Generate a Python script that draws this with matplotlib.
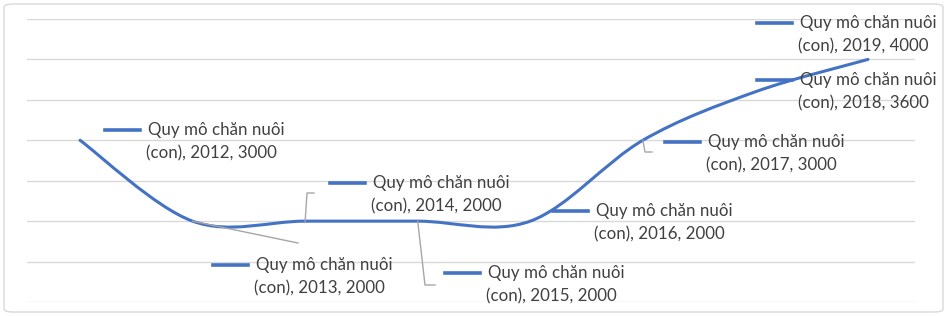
import matplotlib
matplotlib.use("Agg")
import matplotlib.pyplot as plt
import numpy as np
from matplotlib.path import Path
from matplotlib.patches import PathPatch, FancyBboxPatch

# ---------------------------------------------------------------------------
# Data
# ---------------------------------------------------------------------------
years = [2012, 2013, 2014, 2015, 2016, 2017, 2018, 2019]
values = [3000, 2000, 2000, 2000, 2000, 3000, 3600, 4000]
series_name = "Quy mô chăn nuôi\n(con)"

# ---------------------------------------------------------------------------
# Style / geometry (pixels, y measured from top of the 947x316 image)
# ---------------------------------------------------------------------------
W, H, DPI = 947, 316, 100
LINE_COL = "#4472C4"
GRID_COL = "#D9D9D9"
TEXT_COL = "#404040"
LEADER_COL = "#A6A6A6"
FONT = ["Lato", "DejaVu Sans"]
FS = 12.2

# label anchor: (key start x, first line y)
LABEL_POS = {
    2012: (105, 130),
    2013: (213, 265),
    2014: (330, 183),
    2015: (445, 273),
    2016: (553, 211),
    2017: (665, 142),
    2018: (757, 80),
    2019: (757, 23),
}
# leader lines: list of pixel vertices after the data point
LEADERS = {
    2013: [(298, 243)],
    2014: [(307, 193), (314, 193)],
    2015: [(425, 285), (435, 285)],
    2017: [(645, 152), (652, 152)],
}


def px(x, y):
    """pixel (from top-left) -> figure fraction"""
    return x / W, 1 - y / H


def smooth_path(xs, ys):
    """Excel-like smoothed line: cubic Bezier with Catmull-Rom tangents."""
    pts = np.column_stack([xs, ys]).astype(float)
    n = len(pts)
    verts = [pts[0]]
    codes = [Path.MOVETO]
    for i in range(n - 1):
        p0 = pts[max(i - 1, 0)]
        p1 = pts[i]
        p2 = pts[i + 1]
        p3 = pts[min(i + 2, n - 1)]
        c1 = p1 + (p2 - p0) / 6.0
        c2 = p2 - (p3 - p1) / 6.0
        verts += [c1, c2, p2]
        codes += [Path.CURVE4] * 3
    return Path(verts, codes)


fig = plt.figure(figsize=(W / DPI, H / DPI), dpi=DPI)
ax = fig.add_axes([27 / W, 14 / H, 888 / W, 283 / H])

xs = np.arange(len(years))
ax.set_xlim(-0.471, 7.418)
ax.set_ylim(1000, 4500)
ax.set_yticks(np.arange(1000, 4501, 500))
ax.grid(axis="y", color=GRID_COL, linewidth=1.0)
ax.set_axisbelow(True)
for s in ax.spines.values():
    s.set_visible(False)
ax.tick_params(left=False, bottom=False, labelleft=False, labelbottom=False)

ax.add_patch(PathPatch(smooth_path(xs, values), facecolor="none",
                       edgecolor=LINE_COL, linewidth=2.2,
                       capstyle="round", zorder=3))

# data labels with legend key
fig.canvas.draw()
name1, name2 = series_name.split("\n")
for i, yr in enumerate(years):
    kx, ky = LABEL_POS[yr]
    fig.add_artist(plt.Line2D([kx / W, (kx + 35) / W], [1 - ky / H] * 2,
                              color=LINE_COL, linewidth=2.6,
                              transform=fig.transFigure))
    fig.text(*px(kx + 43, ky), name1, ha="left", va="center",
             fontsize=FS, color=TEXT_COL, family=FONT)
    fig.text(*px(kx + 41, ky + 23), f"{name2}, {yr}, {values[i]}",
             ha="left", va="center", fontsize=FS, color=TEXT_COL,
             family=FONT)
    if yr in LEADERS:
        dx, dy = ax.transData.transform((xs[i], values[i]))
        pts = [(dx, H - dy)] + LEADERS[yr]
        fig.add_artist(plt.Line2D([p[0] / W for p in pts],
                                  [1 - p[1] / H for p in pts],
                                  color=LEADER_COL, linewidth=1.0,
                                  transform=fig.transFigure))

# chart area border
fig.add_artist(FancyBboxPatch((4 / W, 4 / H), 939 / W, 308 / H,
                              boxstyle="round,pad=0,rounding_size=0.01",
                              transform=fig.transFigure, facecolor="none",
                              edgecolor=GRID_COL, linewidth=1.0))

fig.savefig("out.png", dpi=DPI)
